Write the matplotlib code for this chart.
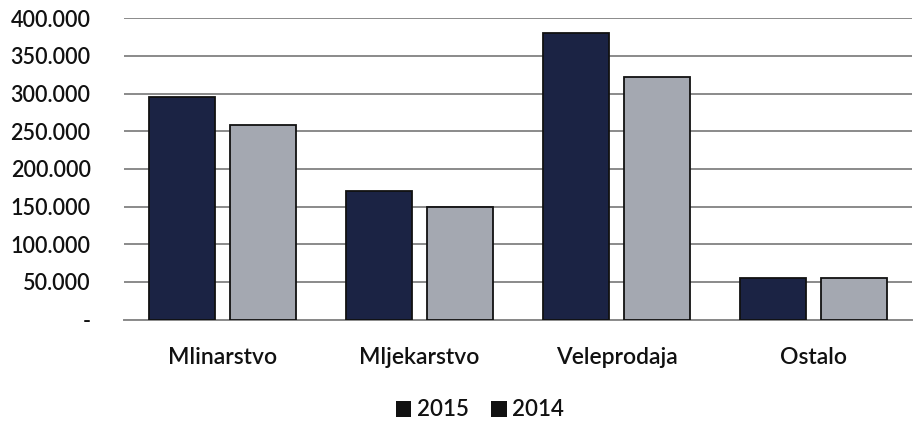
import matplotlib
matplotlib.use("Agg")
import matplotlib.pyplot as plt
from matplotlib.patches import Patch
import numpy as np

categories = ["Mlinarstvo", "Mljekarstvo", "Veleprodaja", "Ostalo"]
series_2015 = [296000, 170500, 380000, 54500]
series_2014 = [258000, 149600, 321600, 55300]
yticks = [0, 50000, 100000, 150000, 200000, 250000, 300000, 350000, 400000]
ytick_labels = ["-", "50.000", "100.000", "150.000", "200.000", "250.000", "300.000", "350.000", "400.000"]

plt.rcParams['font.family'] = ['Lato', 'DejaVu Sans']

fig = plt.figure(figsize=(9.18, 4.24), dpi=100)
ax = fig.add_axes([124/918, 1-319.5/424, (912-124)/918, (319.5-18.3)/424])

x = np.arange(len(categories))
w = 0.335
off = 0.206
c15 = "#1b2344"
c14 = "#a4a8b1"
ax.bar(x - off, series_2015, width=w, color=c15, edgecolor="#111111", linewidth=1.3, zorder=3)
ax.bar(x + off, series_2014, width=w, color=c14, edgecolor="#111111", linewidth=1.3, zorder=3)

ax.set_xlim(-0.5, len(categories) - 0.5)
ax.set_ylim(0, 400000)
ax.set_yticks(yticks)
ax.set_yticklabels(ytick_labels, fontsize=15.5, fontweight='semibold', color="#111111")
ax.set_xticks(x)
ax.set_xticklabels(categories, fontsize=16.5, fontweight='semibold', color="#111111")
ax.tick_params(axis='both', length=0)
ax.tick_params(axis='y', pad=24)
ax.tick_params(axis='x', pad=20)
ax.grid(axis='y', color="#8a8a8a", linewidth=1.4, zorder=0)
ax.set_axisbelow(True)
for s in ["top", "right", "left"]:
    ax.spines[s].set_visible(False)
ax.spines["bottom"].set_color("#8a8a8a")
ax.spines["bottom"].set_linewidth(1.4)

handles = [Patch(facecolor="#111111", label="2015"), Patch(facecolor="#111111", label="2014")]
fig.legend(handles=handles, loc="center", bbox_to_anchor=(480/918, 1-410/424), ncol=2,
           frameon=False, handlelength=0.7, handleheight=0.7,
           handletextpad=0.25, columnspacing=1.0,
           prop={'size': 16, 'weight': 'semibold'})
for t in fig.legends[0].get_texts():
    t.set_color("#111111")

fig.savefig("out.png", dpi=100)
